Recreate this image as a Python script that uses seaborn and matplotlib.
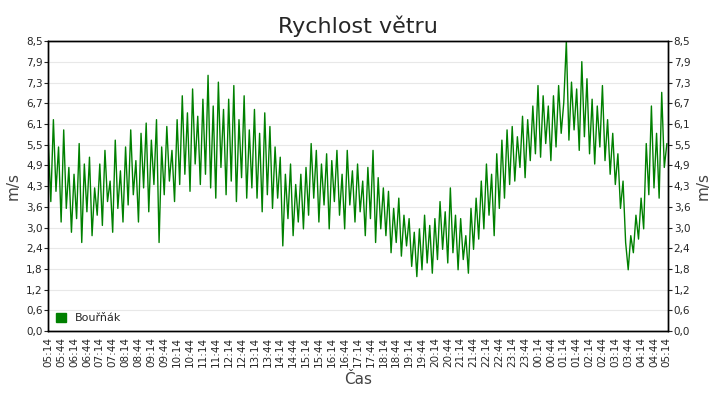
import matplotlib
matplotlib.use("Agg")
import matplotlib.pyplot as plt
from matplotlib.patches import Patch
import seaborn as sns
import pandas as pd

# wind speed (m/s), one reading every 6 minutes from 05:14 to 05:14 next day
speed = [
    5.6, 3.8, 6.2, 4.1, 5.4, 3.2, 5.9, 3.6, 4.8, 2.9,
    4.6, 3.3, 5.5, 2.6, 4.9, 3.5, 5.1, 2.8, 4.2, 3.4,
    4.9, 3.1, 5.3, 3.8, 4.4, 2.9, 5.6, 3.6, 4.7, 3.2,
    5.4, 3.7, 5.9, 4.0, 5.0, 3.2, 5.8, 4.2, 6.1, 3.5,
    5.6, 4.3, 6.2, 2.6, 5.4, 4.0, 6.0, 4.4, 5.3, 3.8,
    6.2, 4.3, 6.9, 4.6, 6.4, 4.1, 7.1, 4.9, 6.3, 4.3,
    6.8, 4.6, 7.5, 4.2, 6.6, 3.9, 7.3, 4.8, 6.5, 4.0,
    6.8, 4.4, 7.2, 3.8, 6.2, 4.5, 6.9, 3.9, 5.9, 4.2,
    6.5, 3.9, 5.8, 3.5, 6.4, 4.0, 6.0, 3.6, 5.4, 3.9,
    5.1, 2.5, 4.6, 3.3, 4.9, 2.8, 4.3, 3.2, 4.6, 3.0,
    4.8, 3.4, 5.5, 3.9, 5.3, 3.2, 4.9, 3.7, 5.2, 3.0,
    5.0, 3.8, 5.3, 3.4, 4.6, 3.0, 5.3, 3.7, 4.7, 3.2,
    4.9, 3.5, 4.4, 2.8, 4.8, 3.3, 5.3, 2.6, 4.5, 3.0,
    4.2, 2.8, 4.1, 2.3, 3.6, 2.6, 3.9, 2.2, 3.4, 2.5,
    3.3, 1.9, 2.9, 1.6, 3.0, 1.8, 3.4, 2.0, 3.1, 1.7,
    3.3, 2.1, 3.8, 2.4, 3.5, 2.0, 4.2, 2.3, 3.4, 1.8,
    3.3, 2.1, 2.8, 1.7, 3.6, 2.4, 3.9, 2.7, 4.4, 3.0,
    4.9, 3.4, 4.6, 2.8, 5.2, 3.6, 5.6, 3.9, 5.9, 4.3,
    6.0, 4.4, 5.7, 4.8, 6.3, 4.5, 6.2, 5.0, 6.6, 5.2,
    7.2, 5.1, 6.9, 5.5, 6.6, 5.0, 6.9, 5.4, 7.2, 5.8,
    6.7, 8.5, 5.6, 7.3, 5.9, 7.1, 5.3, 7.9, 5.7, 7.4,
    5.2, 6.8, 4.9, 6.6, 5.4, 7.2, 5.0, 6.2, 4.6, 5.8,
    4.3, 5.2, 3.6, 4.4, 2.6, 1.8, 2.8, 2.3, 3.4, 2.7,
    3.9, 3.0, 5.5, 4.0, 6.6, 4.2, 5.8, 3.9, 7.0, 4.8, 5.5,
]

start = pd.Timestamp("2024-01-01 05:14")
times = pd.date_range(start, periods=len(speed), freq="6min")
df = pd.DataFrame({"Čas": times, "speed": speed})

tick_times = pd.date_range(start, periods=49, freq="30min")
tick_labels = [t.strftime("%H:%M") for t in tick_times]
y_ticks = [8.5 * i / 14 for i in range(15)]
y_labels = ["0,0", "0,6", "1,2", "1,8", "2,4", "3,0", "3,6", "4,3",
            "4,9", "5,5", "6,1", "6,7", "7,3", "7,9", "8,5"]

sns.set_style("white")
plt.rcParams["font.family"] = ["DejaVu Sans"]

fig, ax = plt.subplots(figsize=(7.2, 4.0), dpi=100)
fig.subplots_adjust(left=0.067, right=0.928, top=0.897, bottom=0.172)
sns.lineplot(data=df, x="Čas", y="speed", ax=ax, color="#008000", linewidth=1,
             legend=False)

ax.set_xlim(tick_times[0], tick_times[-1] + pd.Timedelta(minutes=3))
ax.set_ylim(0, 8.5)
ax.set_xticks(tick_times)
ax.set_xticklabels(tick_labels, rotation=90, fontsize=7.5)
ax.set_yticks(y_ticks)
ax.set_yticklabels(y_labels, fontsize=7.5)
ax.grid(axis="y", color="#e8e8e8", linewidth=0.8)
ax.tick_params(axis="both", direction="out", length=3, pad=1)
ax.set_xlabel("Čas", fontsize=11, color="#444444")
ax.set_ylabel("m/s", fontsize=11, color="#444444")
ax.set_title("Rychlost větru", fontsize=16)

ax2 = ax.twinx()
ax2.set_ylim(0, 8.5)
ax2.set_yticks(y_ticks)
ax2.set_yticklabels(y_labels, fontsize=7.5)
ax2.set_ylabel("m/s", fontsize=11, color="#444444")
ax2.tick_params(axis="y", direction="out", length=3, pad=1)

for a in (ax, ax2):
    for s in a.spines.values():
        s.set_color("black")
        s.set_linewidth(1)

ax.legend(handles=[Patch(color="#008000", label="Bouřňák")], loc="lower left",
          frameon=False, fontsize=8, handlelength=0.9, handleheight=0.9,
          borderaxespad=0.3)

fig.savefig("out.png", dpi=100)
